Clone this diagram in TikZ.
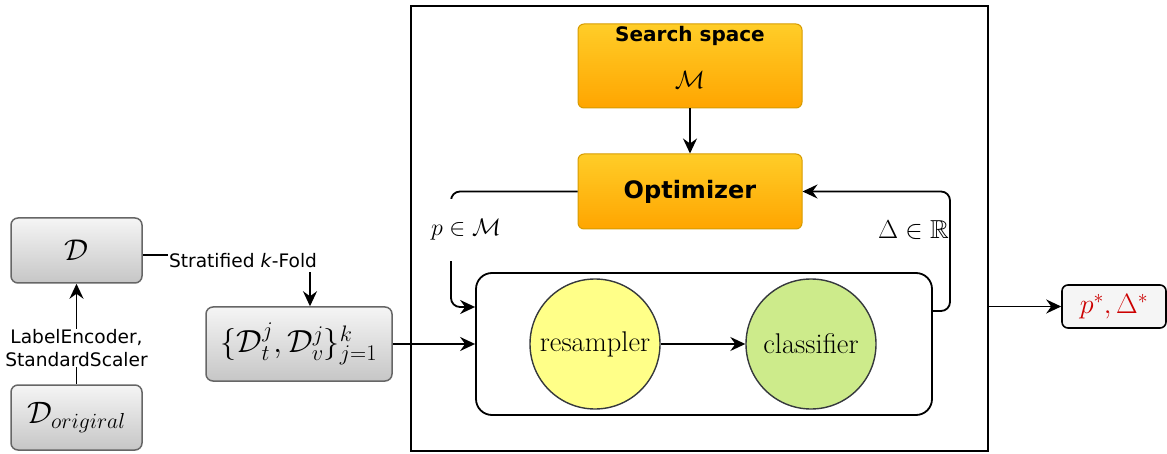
\RequirePackage{fix-cm}
\documentclass[tikz,border=0pt]{standalone}
\usepackage{amsmath,amssymb}
\usepackage{fontspec}
\setsansfont{DejaVu Sans}
\usetikzlibrary{arrows.meta}
\definecolor{orTop}{HTML}{FFCD28}
\definecolor{orBot}{HTML}{FFA500}
\definecolor{orBd}{HTML}{D79B00}
\definecolor{resF}{HTML}{FFFF88}
\definecolor{clsF}{HTML}{CDEB8B}
\definecolor{cBd}{HTML}{36393D}
\definecolor{resRed}{HTML}{CC0000}
\definecolor{gTop}{HTML}{F5F5F5}
\definecolor{gBot}{HTML}{C6C6C6}
\definecolor{gBd}{HTML}{666666}
\newcommand{\fs}[1]{\fontsize{#1}{#1}\selectfont}
\tikzset{
  tip/.tip={Stealth[length=15pt,width=14pt,inset=5pt]},
  conn/.style={line width=1.8pt,-tip},
  graybox/.style={rectangle, rounded corners=7pt, draw=gBd, line width=1.5pt,
    top color=gTop, bottom color=gBot, inner sep=0pt, font=\fs{30}},
  orbox/.style={rectangle, rounded corners=6pt, draw=orBd, line width=1pt,
    top color=orTop, bottom color=orBot, inner sep=0pt,
    minimum width=224pt},
  circ/.style={circle, draw=cBd, line width=1.4pt, minimum size=130pt, inner sep=0pt, font=\fs{28.5}},
  lbl/.style={font=\sffamily\fs{18.6}, inner sep=1pt},
  mlbl/.style={font=\fs{24}, inner sep=1pt},
}
\begin{document}
\begin{tikzpicture}[x=1pt,y=-1pt]
\useasboundingbox (0,0) rectangle (1167,454);
% left boxes
\node[graybox, minimum width=131pt, minimum height=65pt] (D) at (76.5,250.5) {$\mathcal{D}$};
\node[graybox, minimum width=131pt, minimum height=65pt, font=\fs{31}] (Do) at (76.5,417.5) {$\mathcal{D}_{origiral}$};
\node[graybox, minimum width=186pt, minimum height=74pt, font=\fs{32}] (S) at (299,344) {$\{\mathcal{D}_t^j,\mathcal{D}_v^j\}_{j=1}^k$};
% outer box
\node[draw, line width=1.8pt, minimum width=577pt, minimum height=445pt, inner sep=0pt] (outer) at (699.5,228.5) {};
% orange boxes
\node[orbox, minimum height=84pt] (search) at (690,66) {};
\node[font=\sffamily\bfseries\fs{20}, inner sep=0pt] (stitle) at (690,36) {Search space};
\node[font=\fs{25}, inner sep=0pt] (sM) at (690,80) {$\mathcal{M}$};
\node[orbox, minimum height=75pt, font=\sffamily\bfseries\fs{24}] (opt) at (690,191.5) {Optimizer};
% inner box
\node[draw, line width=1.8pt, rounded corners=16pt, minimum width=456pt, minimum height=142pt, inner sep=0pt] (inner) at (704,344) {};
\node[circ, fill=resF] (res) at (595,344) {resampler};
\node[circ, fill=clsF] (cls) at (811,344) {classifier};
% result
\node[rectangle, rounded corners=6pt, draw, line width=1.6pt, fill=gTop, minimum width=104pt, minimum height=43pt, inner sep=0pt, font=\fs{28}, text=resRed] (out) at (1114,306.5) {$p^*,\Delta^*$};
% connectors
\draw[conn] (Do.north) -- (D.south);
\node[lbl, fill=white, align=center] (le) at (76.5,348) {LabelEncoder,\\[4pt]StandardScaler};
\coordinate (k1) at (310,255);
\draw[conn] (D.east |- k1) -- (k1) -- (S.north -| k1);
\node[lbl, fill=white, minimum height=22pt] (sk) at (243,261) {Stratified \textit{k}-Fold};
\draw[conn] (S.east) -- (inner.west |- S.east);
\draw[conn] (search) -- (opt);
\draw[conn] (res) -- (cls);
\coordinate (l1) at (451,191.5);
\coordinate (l2) at (451,307);
\draw[conn, rounded corners=9pt] (opt.west) -- (l1) -- (l2) -- (inner.west |- l2);
\node[mlbl, fill=white, minimum height=62pt, minimum width=74pt] (pM) at (466,230) {$p\in\mathcal{M}$};
\coordinate (r1) at (950,311);
\coordinate (r2) at (950,191.5);
\draw[conn, rounded corners=9pt] (inner.east |- r1) -- (r1) -- (r2) -- (opt.east);
\node[mlbl, anchor=east, font=\fs{26}] (dR) at (950,230) {$\Delta\in\mathbb{R}$};
\draw[conn] (outer.east |- out.west) -- (out.west);
\end{tikzpicture}
\end{document}
